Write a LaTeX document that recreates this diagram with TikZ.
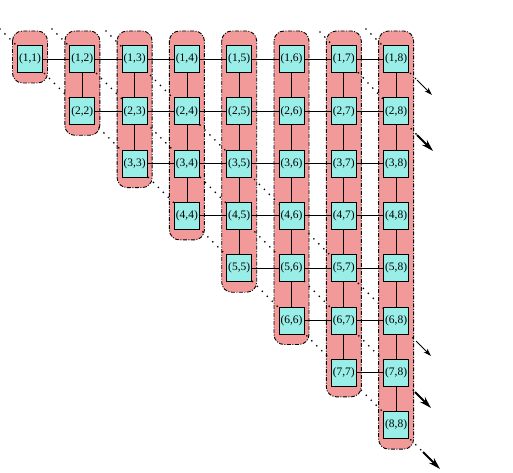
\documentclass[tikz,border=0pt]{standalone}
\usepackage{fontspec}
\setmainfont{Liberation Serif}
\usetikzlibrary{arrows.meta}
\pgfdeclarelayer{bg}
\pgfdeclarelayer{mid}
\pgfsetlayers{bg,mid,main}
\definecolor{cellc}{RGB}{153,238,232}
\definecolor{pinkc}{RGB}{242,153,153}
\begin{document}
\begin{tikzpicture}[x=1bp,y=-1bp,
  cell/.style={draw=black, fill=cellc, line width=0.8bp, minimum width=25bp, minimum height=27bp, inner sep=0pt, font=\fontsize{11.5}{11.5}\selectfont},
  link/.style={draw=black, line width=0.8bp},
  grp/.style={fill=pinkc, draw=black, line width=0.9bp, rounded corners=10bp, dash pattern=on 4bp off 1.5bp on 1bp off 1.5bp},
  diag/.style={draw=black, line width=1.9bp, line cap=round, dash pattern=on 0bp off 7bp},
  boldarrow/.style={draw=black, line width=1.8bp, -{Stealth[length=12bp,width=7bp]}},
  thinarrow/.style={draw=black, line width=0.8bp, -{Stealth[length=8bp,width=5bp]}}]
\useasboundingbox (0,0) rectangle (513,473);
% cells
\foreach \j in {1,...,8}{
  \foreach \i in {1,...,\j}{
    \node[cell] (n\i\j) at ({30+(\j-1)*52.3},{59+(\i-1)*52.3}) {(\i,\j)};
  }
}
% horizontal connectors
\foreach \j in {1,...,7}{
  \pgfmathtruncatemacro{\jj}{\j+1}
  \foreach \i in {1,...,\j}{
    \draw[link] (n\i\j.east) -- (n\i\jj.west);
  }
}
% vertical connectors
\foreach \j in {2,...,8}{
  \pgfmathtruncatemacro{\jm}{\j-1}
  \foreach \i in {1,...,\jm}{
    \pgfmathtruncatemacro{\ii}{\i+1}
    \draw[link] (n\i\j.south) -- (n\ii\j.north);
  }
}
% column groups
\begin{pgfonlayer}{bg}
\foreach \j in {1,...,8}{
  \draw[grp] ({30+(\j-1)*52.3-17.5},31) rectangle ({30+(\j-1)*52.3+17.5},{59+(\j-1)*52.3+24});
}
\end{pgfonlayer}
% diagonal dotted lines
\coordinate (as) at (0,29);   \coordinate (am) at (423,452); \coordinate (at) at (440,469);
\coordinate (bs) at (52,29);  \coordinate (bm) at (415,392); \coordinate (bt) at (431,408);
\coordinate (cs) at (106,31); \coordinate (cm) at (416,341); \coordinate (ct) at (431,356);
\coordinate (ds) at (320,32); \coordinate (dm) at (417,135); \coordinate (dt) at (433,151);
\coordinate (es) at (366,29); \coordinate (em) at (417,80);  \coordinate (et) at (432,95);
\begin{pgfonlayer}{mid}
\draw[diag] (as) -- (am);
\draw[diag] (bs) -- (bm);
\draw[diag] (cs) -- (cm);
\draw[diag] (ds) -- (dm);
\draw[diag] (es) -- (em);
\end{pgfonlayer}
\draw[boldarrow] (am) -- (at);
\draw[boldarrow] (bm) -- (bt);
\draw[thinarrow] (cm) -- (ct);
\draw[boldarrow] (dm) -- (dt);
\draw[thinarrow] (em) -- (et);
\end{tikzpicture}
\end{document}
